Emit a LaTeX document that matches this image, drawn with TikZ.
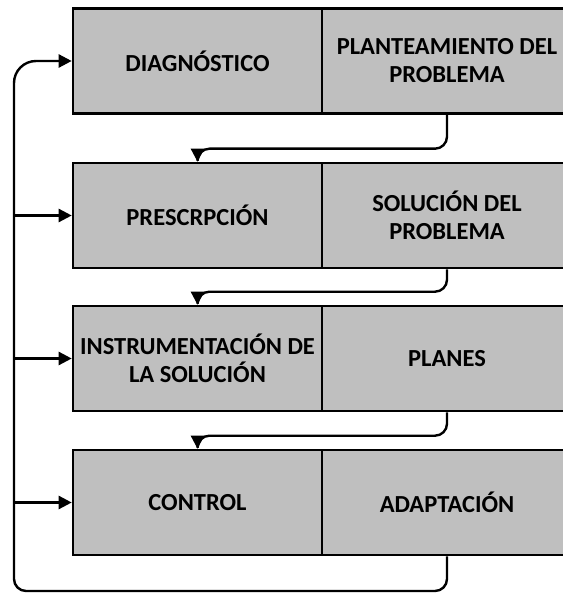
\documentclass[tikz,border=0pt]{standalone}
\usepackage{fontspec}
\setmainfont{Carlito}
\usetikzlibrary{arrows.meta}

\begin{document}
\begin{tikzpicture}[x=1pt, y=-1pt,
		caja/.style={draw, line width=2.6pt, fill=black!25, minimum height=105pt, inner sep=0pt, align=center, font=\bfseries\fontsize{24.5}{28}\selectfont},
		izq/.style={caja, minimum width=249pt},
		der/.style={caja, minimum width=250pt},
		flecha/.style={line width=2.4pt, -{Triangle[length=13pt,width=13pt]}}]
		\useasboundingbox (0,0) rectangle (562,593);
		% cajas
		\foreach \y/\a/\ta/\b/\tb in {61/diag/DIAGNÓSTICO/plant/{PLANTEAMIENTO DEL\\PROBLEMA},
			215.5/presc/PRESCRPCIÓN/soluc/{SOLUCIÓN DEL\\PROBLEMA},
			358.5/instr/{INSTRUMENTACIÓN DE\\LA SOLUCIÓN}/planes/PLANES,
			502.5/control/CONTROL/adapt/ADAPTACIÓN}
		{
			\node[izq] (\a) at (197.5,\y) {\ta};
			\node[der] (\b) at (447,\y) {\tb};
		}
		% flechas entre filas
		\foreach \a/\b in {plant/presc, soluc/instr, planes/control}
		\draw[flecha] (\a.south) [rounded corners=12pt] |- ([yshift=13pt]\b.north) [sharp corners] -- (\b.north);
		% retroalimentacion
		\coordinate (fondo) at (14,591);
		\draw[flecha] (adapt.south) [rounded corners=12pt] |- (fondo) [rounded corners=22pt] |- (diag.west);
		\foreach \n in {presc, instr, control}
		\draw[flecha] (fondo |- \n.west) -- (\n.west);
	\end{tikzpicture}
\end{document}
